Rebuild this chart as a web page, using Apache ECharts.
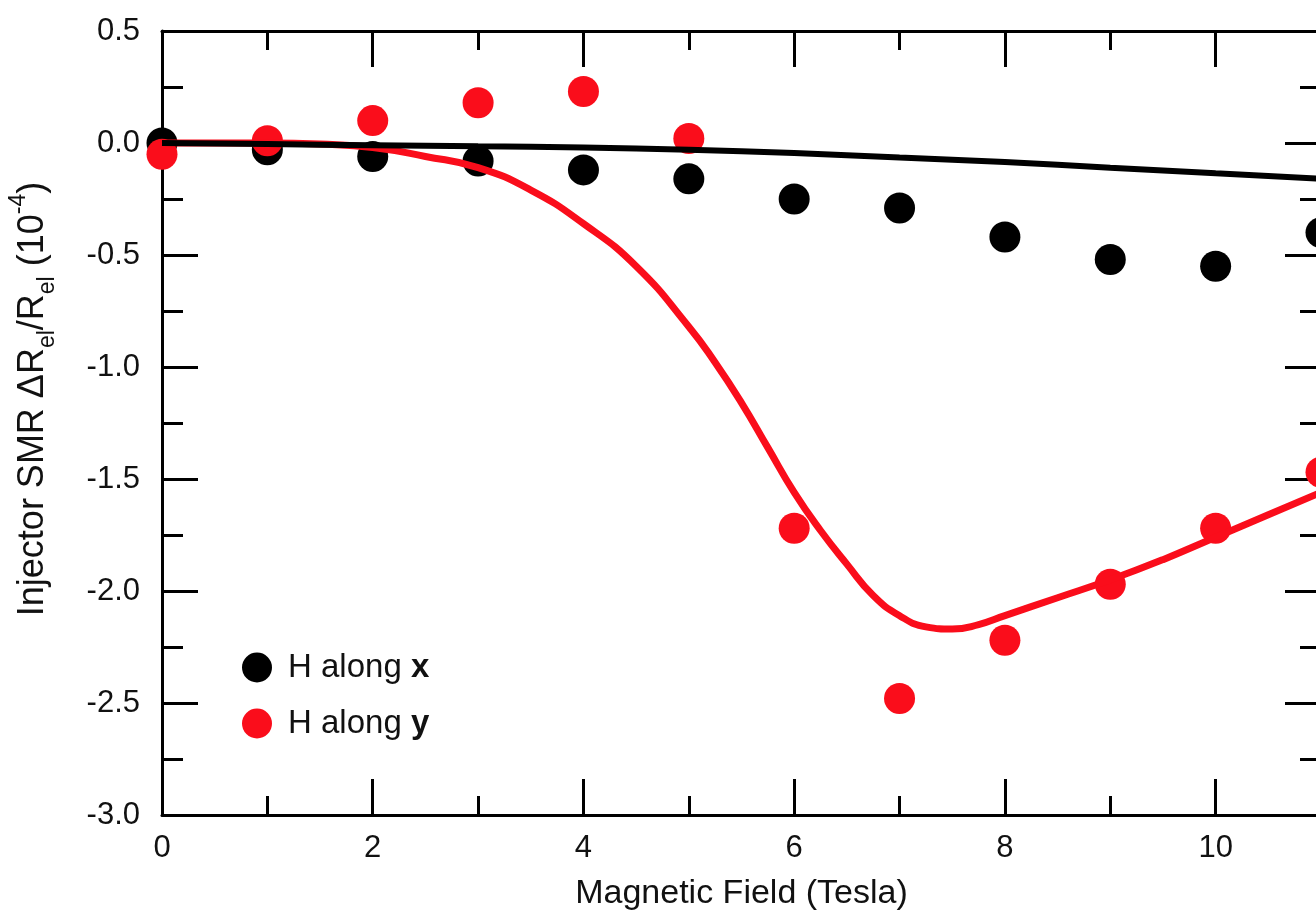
<!DOCTYPE html>
<html>
<head>
<meta charset="utf-8">
<script src="https://cdn.jsdelivr.net/npm/echarts@6/dist/echarts.min.js"></script>
<style>
html,body{margin:0;padding:0;background:#fff;}
#chart{width:1316px;height:916px;}
</style>
</head>
<body>
<div id="chart"></div>
<script>
// Measured points (Magnetic field in Tesla)
const fieldT = [0, 1, 2, 3, 4, 5, 6, 7, 8, 9, 10, 11];
const hAlongX = [0.00, -0.03, -0.06, -0.08, -0.12, -0.16, -0.25, -0.29, -0.42, -0.52, -0.55, -0.40];
const hAlongY = [-0.05, 0.01, 0.10, 0.18, 0.23, 0.02, -1.72, -2.48, -2.22, -1.97, -1.72, -1.47];

// Fit curves
const fitXField = [0, 1, 2, 3, 4, 5, 6, 7, 8, 9, 10, 11];
const fitXValue = [0.00, -0.005, -0.01, -0.015, -0.02, -0.03, -0.045, -0.065, -0.085, -0.11, -0.135, -0.16];
const fitYField = [0, 1, 1.5, 2, 2.5, 3, 3.5, 4, 4.5, 5, 5.25, 5.5, 5.75, 6, 6.25, 6.5, 6.75, 7, 7.25, 7.5, 7.75, 8, 8.5, 9, 9.5, 10, 10.5, 11];
const fitYValue = [0, 0, -0.005, -0.02, -0.06, -0.11, -0.21, -0.36, -0.55, -0.82, -0.98, -1.16, -1.36, -1.56, -1.73, -1.88, -2.02, -2.11, -2.16, -2.17, -2.15, -2.11, -2.03, -1.95, -1.86, -1.76, -1.66, -1.56];

const seriesNames = ['H along x', 'H along y'];
const xTitle = 'Magnetic Field (Tesla)';
const yTitle = 'Injector SMR \u0394R{sub|el}/R{sub|el} (10{sup|-4})';

const FONT = '"Liberation Sans", Arial, sans-serif';
const TXT = '#111';
const RED = '#fa0d1b';

const zip = (a, b) => a.map((v, i) => [v, b[i]]);

// x axis runs to 12 (beyond the visible frame, whose right side sits at 11)
const X_MAX = 12;
const UNIT = 1159 / 11;
const GRID_W = UNIT * X_MAX;
const tickStyle = {color: '#000', width: 3};

function xAx(position, extra) {
  return Object.assign({
    type: 'value', min: 0, max: X_MAX, position: position, interval: 2,
    axisLine: {show: true, onZero: false, lineStyle: {color: '#000', width: 3}},
    axisTick: {show: true, inside: true, length: 36, lineStyle: tickStyle},
    minorTick: {show: true, splitNumber: 2, length: 19, lineStyle: tickStyle},
    axisLabel: {show: false},
    splitLine: {show: false}, minorSplitLine: {show: false}
  }, extra || {});
}

function yAx(position, extra) {
  return Object.assign({
    type: 'value', min: -3, max: 0.5, interval: 0.5, position: position,
    axisLine: {show: true, onZero: false, lineStyle: {color: '#000', width: 3}},
    axisTick: {show: true, inside: true, length: 36, lineStyle: tickStyle},
    minorTick: {show: true, splitNumber: 2, length: 21, lineStyle: tickStyle},
    axisLabel: {show: false},
    splitLine: {show: false}, minorSplitLine: {show: false}
  }, extra || {});
}

const option = {
  backgroundColor: '#fff',
  animation: false,
  grid: {left: 162, top: 31, width: GRID_W, height: 784, containLabel: false, outerBoundsMode: 'none'},
  xAxis: [
    xAx('bottom', {
      axisLabel: {show: true, margin: 18, color: TXT, fontSize: 31, fontFamily: FONT,
        formatter: v => (v <= 10 ? String(v) : '')},
      name: xTitle, nameLocation: 'middle', nameGap: 62,
      nameTextStyle: {color: TXT, fontSize: 34, fontFamily: FONT, padding: [0, UNIT, 0, 0]}
    }),
    xAx('top')
  ],
  yAxis: [
    yAx('left', {
      axisLabel: {show: true, margin: 22, color: TXT, fontSize: 31, fontFamily: FONT,
        formatter: v => v.toFixed(1)}
    }),
    yAx('right', {offset: -(GRID_W - 1159)})
  ],
  legend: {
    data: seriesNames,
    orient: 'vertical', left: 242, top: 651, padding: 0,
    itemWidth: 30, itemHeight: 30, itemGap: 23,
    textStyle: {color: TXT, fontSize: 33, fontFamily: FONT,
      rich: {
        b: {fontWeight: 'bold', fontSize: 33, fontFamily: FONT, color: TXT},
        s: {width: 11}
      }},
    formatter: name => '{s|}' + name.replace(/ (x|y)$/, ' {b|$1}')
  },
  graphic: [{
    type: 'text', x: 33, y: 399, rotation: Math.PI / 2,
    style: {
      text: yTitle, fill: TXT, fontSize: 36, fontFamily: FONT,
      align: 'center', verticalAlign: 'middle',
      rich: {
        sub: {fontSize: 23, fontFamily: FONT, fill: TXT, lineHeight: 24, verticalAlign: 'bottom'},
        sup: {fontSize: 23, fontFamily: FONT, fill: TXT, lineHeight: 24, verticalAlign: 'top'}
      },
      lineHeight: 52
    }
  }],
  series: [
    {name: seriesNames[0], type: 'scatter',
     data: zip(fieldT, hAlongX), symbol: 'circle', symbolSize: 31,
     itemStyle: {color: '#000', opacity: 1}, z: 2},
    {name: seriesNames[1], type: 'scatter',
     data: zip(fieldT, hAlongY), symbol: 'circle', symbolSize: 31,
     itemStyle: {color: RED, opacity: 1}, z: 3},
    {name: 'fitY', type: 'line',
     data: zip(fitYField, fitYValue), showSymbol: false, symbol: 'none', smooth: 0.5,
     lineStyle: {color: RED, width: 7}, z: 4},
    {name: 'fitX', type: 'line',
     data: zip(fitXField, fitXValue), showSymbol: false, symbol: 'none', smooth: 0.5,
     lineStyle: {color: '#000', width: 6}, z: 5}
  ]
};

const chart = echarts.init(document.getElementById('chart'), null, {renderer: 'canvas'});
chart.setOption(option);
</script>
</body>
</html>
